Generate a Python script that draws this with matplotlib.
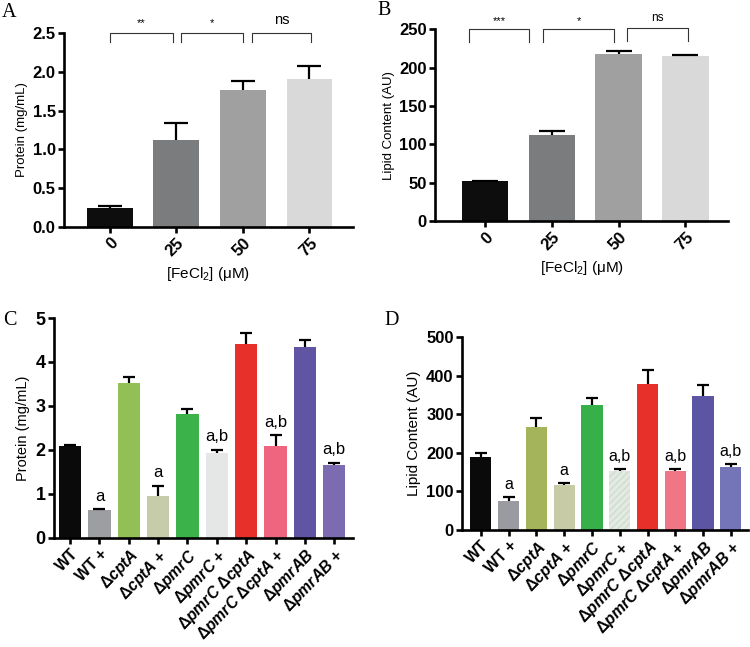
import numpy as np
import matplotlib
matplotlib.use("Agg")
import matplotlib.pyplot as plt

plt.rcParams['font.family'] = ['Liberation Sans', 'DejaVu Sans']
plt.rcParams['mathtext.fontset'] = 'custom'
plt.rcParams['mathtext.it'] = 'Liberation Sans:italic:bold'
plt.rcParams['mathtext.rm'] = 'Liberation Sans:bold'
plt.rcParams['mathtext.bf'] = 'Liberation Sans:bold'

# ---- data ----
fe_conc = ["0", "25", "50", "75"]
protein_fe = [0.25, 1.12, 1.77, 1.91]
protein_fe_err = [0.02, 0.22, 0.11, 0.17]
lipid_fe = [52, 112, 218, 215]
lipid_fe_err = [0.8, 6, 3, 1.5]
fe_colors = ['#0d0d0d', '#7b7c7e', '#a0a0a0', '#d9d9d9']

strains = ["WT", "WT +", "Δ$cptA$", "Δ$cptA$ +", "Δ$pmrC$", "Δ$pmrC$ +",
           "Δ$pmrC$ Δ$cptA$", "Δ$pmrC$ Δ$cptA$ +", "Δ$pmrAB$", "Δ$pmrAB$ +"]
protein_strain = [2.09, 0.63, 3.52, 0.96, 2.82, 1.93, 4.42, 2.09, 4.34, 1.65]
protein_strain_err = [0.03, 0.03, 0.13, 0.23, 0.12, 0.08, 0.24, 0.25, 0.15, 0.06]
protein_marks = ["", "a", "", "a", "", "a,b", "", "a,b", "", "a,b"]
lipid_strain = [188, 76, 266, 117, 324, 152, 378, 152, 348, 162]
lipid_strain_err = [12, 10, 23, 5, 19, 7, 36, 7, 27, 9]
lipid_marks = ["", "a", "", "a", "", "a,b", "", "a,b", "", "a,b"]
c_colors = ['#0a0a0a', '#9d9ea2', '#92c056', '#c6ccaa', '#3bb34a', '#e5e7e6',
            '#e8302a', '#ef6580', '#5f55a3', '#7d6bb2']
d_colors = ['#0a0a0a', '#9a9ba0', '#a4b45a', '#c7cba6', '#38b04a', '#e2eae2',
            '#e8302a', '#f07585', '#5b55a4', '#7474b8']

fig = plt.figure(figsize=(7.5, 6.47), dpi=100)
axA = fig.add_axes([0.0853, 0.649, 0.385, 0.300])
axB = fig.add_axes([0.580, 0.658, 0.391, 0.297])
axC = fig.add_axes([0.072, 0.1685, 0.399, 0.340])
axD = fig.add_axes([0.616, 0.181, 0.381, 0.298])


def style(ax, xsize, ysize):
    for s in ['top', 'right']:
        ax.spines[s].set_visible(False)
    for s in ['left', 'bottom']:
        ax.spines[s].set_linewidth(1.9)
    ax.tick_params(width=1.9, length=4, pad=2)
    ax.tick_params(axis='x', labelsize=xsize)
    ax.tick_params(axis='y', labelsize=ysize)
    for lab in ax.get_yticklabels() + ax.get_xticklabels():
        lab.set_fontweight('bold')


def up_errors(ax, xpos, vals, errs, cap):
    # only the upper half of the error bar, as in the original figure
    _, caps, _ = ax.errorbar(xpos, vals, yerr=[np.zeros(len(vals)), errs],
                             fmt='none', ecolor='black', elinewidth=1.6,
                             capsize=cap, capthick=1.6)
    caps[0].set_visible(False)


def bracket(ax, x0, x1, ytop, drop, text, ty, fs):
    ax.plot([x0, x0, x1, x1], [ytop - drop, ytop, ytop, ytop - drop],
            color='#333333', lw=0.8, clip_on=False)
    ax.text((x0 + x1) / 2, ty, text, ha='center', va='bottom', fontsize=fs)


# ---- A ----
x = np.arange(len(fe_conc))
axA.bar(x, protein_fe, width=0.69, color=fe_colors)
up_errors(axA, x, protein_fe, protein_fe_err, 8.5)
axA.set_xlim(-0.69, 3.65)
axA.set_ylim(0, 2.5)
axA.set_yticks(np.arange(0, 2.51, 0.5))
axA.set_yticklabels([f"{v:.1f}" for v in np.arange(0, 2.51, 0.5)])
axA.set_xticks(x)
axA.set_xticklabels(fe_conc, rotation=45, ha='right', rotation_mode='anchor')
axA.set_ylabel("Protein (mg/mL)", fontsize=9.5, labelpad=3)
axA.set_xlabel("[FeCl$_\\mathregular{2}$] (μM)", fontsize=11)
style(axA, 12, 12)
bracket(axA, 0.0, 0.95, 2.5, 0.12, "**", 2.56, 8)
bracket(axA, 1.07, 2.0, 2.5, 0.12, "*", 2.56, 8)
bracket(axA, 2.14, 3.02, 2.5, 0.12, "ns", 2.58, 10.5)

# ---- B ----
axB.bar(x, lipid_fe, width=0.70, color=fe_colors)
up_errors(axB, x, lipid_fe, lipid_fe_err, 9.5)
axB.set_xlim(-0.75, 3.64)
axB.set_ylim(0, 250)
axB.set_yticks(np.arange(0, 251, 50))
axB.set_xticks(x)
axB.set_xticklabels(fe_conc, rotation=45, ha='right', rotation_mode='anchor')
axB.set_ylabel("Lipid Content (AU)", fontsize=9.5, labelpad=3)
axB.set_xlabel("[FeCl$_\\mathregular{2}$] (μM)", fontsize=11)
style(axB, 12, 12)
bracket(axB, -0.24, 0.66, 250, 17, "***", 254, 8)
bracket(axB, 0.87, 1.93, 250, 17, "*", 254, 8)
bracket(axB, 2.13, 3.03, 251, 17, "ns", 257, 8.5)

# ---- C ----
xs = np.arange(len(strains))
axC.bar(xs, protein_strain, width=0.77, color=c_colors)
up_errors(axC, xs, protein_strain, protein_strain_err, 4.2)
for xi, v, e, m in zip(xs, protein_strain, protein_strain_err, protein_marks):
    if m:
        axC.text(xi, v + e + 0.12, m, ha='center', va='bottom', fontsize=12)
axC.set_xlim(-0.55, 9.65)
axC.set_ylim(0, 5)
axC.set_yticks(np.arange(0, 6, 1))
axC.set_xticks(xs)
axC.set_xticklabels(strains, rotation=46, ha='right', rotation_mode='anchor')
axC.set_ylabel("Protein (mg/mL)", fontsize=10.5, labelpad=4)
style(axC, 11.3, 13)

# ---- D ----
bars = axD.bar(xs, lipid_strain, width=0.76, color=d_colors, linewidth=0)
bars[5].set_hatch('/////')
bars[5].set_edgecolor('#cfdccf')
up_errors(axD, xs, lipid_strain, lipid_strain_err, 4.2)
for xi, v, e, m in zip(xs, lipid_strain, lipid_strain_err, lipid_marks):
    if m:
        axD.text(xi, v + e + 12, m, ha='center', va='bottom', fontsize=11.5)
axD.set_xlim(-0.68, 9.61)
axD.set_ylim(0, 500)
axD.set_yticks(np.arange(0, 501, 100))
axD.set_xticks(xs)
axD.set_xticklabels(strains, rotation=46, ha='right', rotation_mode='anchor')
axD.set_ylabel("Lipid Content (AU)", fontsize=11, labelpad=4)
style(axD, 11.5, 12)

# panel letters
for lab, px, py in [("A", 0.003, 0.981), ("B", 0.503, 0.983),
                    ("C", 0.004, 0.505), ("D", 0.513, 0.505)]:
    fig.text(px, py, lab, fontsize=14.5, family='Liberation Serif', va='center')

fig.savefig("out.png", dpi=100)
